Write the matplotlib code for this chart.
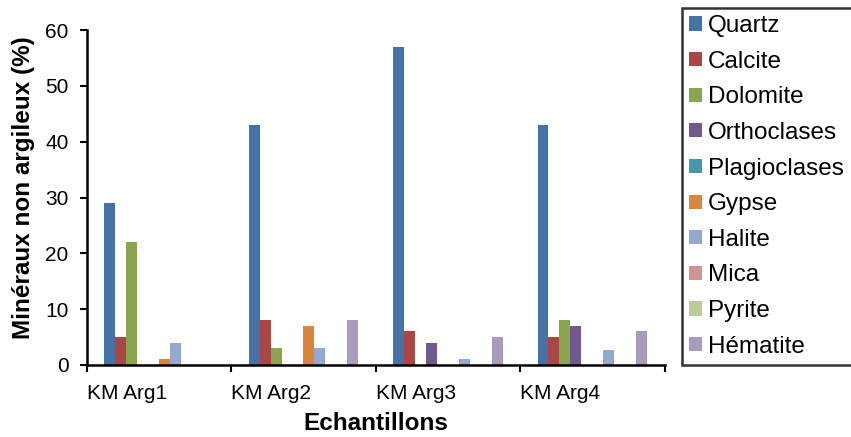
import matplotlib
matplotlib.use("Agg")
import matplotlib.pyplot as plt
import numpy as np

# Data
samples = ["KM Arg1", "KM Arg2", "KM Arg3", "KM Arg4"]
minerals = ["Quartz", "Calcite", "Dolomite", "Orthoclases", "Plagioclases",
            "Gypse", "Halite", "Mica", "Pyrite", "Hématite"]
quartz = [29, 43, 57, 43]
calcite = [5, 8, 6, 5]
dolomite = [22, 3, 0, 8]
orthoclases = [0, 0, 4, 7]
plagioclases = [0, 0, 0, 0]
gypse = [1, 7, 0, 0]
halite = [4, 3, 1, 2.6]
mica = [0, 0, 0, 0]
pyrite = [0, 0, 0, 0]
hematite = [0, 8, 5, 6]

colors = ["#4572A7", "#AA4643", "#89A54E", "#71588F", "#4198AF",
          "#DB843D", "#93A9CF", "#D19392", "#B9CD96", "#A99BBD"]

series = [quartz, calcite, dolomite, orthoclases, plagioclases,
          gypse, halite, mica, pyrite, hematite]

plt.rcParams["font.family"] = ["Liberation Sans", "DejaVu Sans"]

fig = plt.figure(figsize=(8.51, 4.37), dpi=100)
ax = fig.add_axes([0.102, 0.165, 0.679, 0.766])

x = np.arange(len(samples))
width = 0.076
for i, (name, vals) in enumerate(zip(minerals, series)):
    offset = (i - (len(minerals) - 1) / 2) * width
    ax.bar(x + offset, vals, width, color=colors[i], label=name)

ax.set_xlim(-0.5, len(samples) - 0.5)
ax.set_ylim(0, 60)
ax.set_yticks(range(0, 61, 10))

# tick marks on the category boundaries, labels start at the left boundary
ax.set_xticks(np.arange(-0.5, len(samples), 1.0))
ax.set_xticklabels(samples + [""], ha="left")
ax.tick_params(axis="x", length=5, width=1.5, direction="out", labelsize=15, pad=9)
ax.tick_params(axis="y", length=5, width=1.5, direction="out", labelsize=15, pad=8)

for side in ["top", "right"]:
    ax.spines[side].set_visible(False)
for side in ["left", "bottom"]:
    ax.spines[side].set_linewidth(1.8)

ax.set_xlabel("Echantillons", fontsize=17.5, fontweight="bold", labelpad=6)
ax.set_ylabel("Minéraux non argileux (%)", fontsize=17.5, fontweight="bold")
ax.yaxis.set_label_coords(-0.089, 0.53)

leg = fig.legend(loc="upper left", bbox_to_anchor=(0.801, 0.982, 0.25, 0.0),
                 mode="expand", fontsize=17.5, frameon=True, fancybox=False,
                 edgecolor="black", handlelength=0.52, handleheight=0.52,
                 handletextpad=0.25, labelspacing=0.56, borderpad=0.3,
                 borderaxespad=0)
leg.get_frame().set_linewidth(1.8)

fig.savefig("out.png", dpi=100)
